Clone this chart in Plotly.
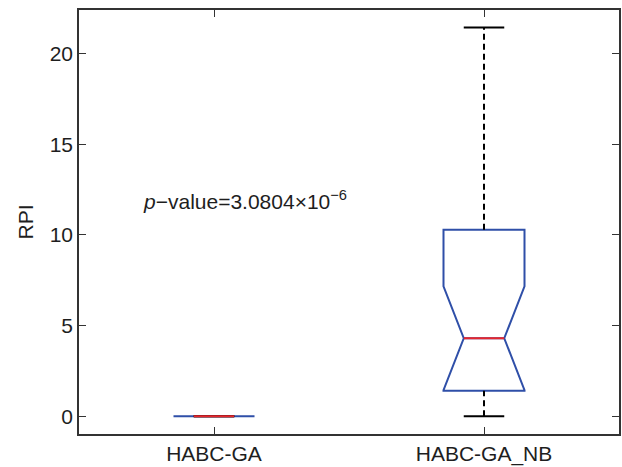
import plotly.graph_objects as go

# ---- data ----
categories = ["HABC-GA", "HABC-GA_NB"]
positions = [1, 2]
q1 = [0.0, 1.40]
median = [0.0, 4.30]
q3 = [0.0, 10.28]
notchspan = [0.0, 2.86]
lower_adj = [0.0, 0.0]
upper_adj = [0.0, 21.43]
y_ticks = [0, 5, 10, 15, 20]
p_text = "<i>p</i>\u2212value=3.0804\u00d710<sup>\u22126</sup>"

# ---- style ----
BOX_W = 0.30          # full box width, data units
NOTCH_W = 0.25        # plotly notchwidth (each side)
CAP_FRAC = 0.5        # cap width relative to box
BLUE = "#2F4FA8"
RED = "#E8262C"
AX = "#333333"
TXT = "#1e1e1e"
FONT = "Liberation Sans, Arial, sans-serif"

fig = go.Figure()

# whiskers (dashed black) and caps
for x, a, b, lo, hi in zip(positions, q1, q3, lower_adj, upper_adj):
    if hi > b:
        fig.add_trace(go.Scatter(x=[x, x], y=[b, hi], mode="lines",
                                 line=dict(color="black", width=2, dash="6px,4px"),
                                 showlegend=False, hoverinfo="skip"))
    if a > lo:
        fig.add_trace(go.Scatter(x=[x, x], y=[lo, a], mode="lines",
                                 line=dict(color="black", width=2, dash="6px,4px"),
                                 showlegend=False, hoverinfo="skip"))
    hw = BOX_W / 2 * CAP_FRAC
    for v in (lo, hi):
        fig.add_trace(go.Scatter(x=[x - hw, x + hw], y=[v, v], mode="lines",
                                 line=dict(color="black", width=2),
                                 showlegend=False, hoverinfo="skip"))

# notched boxes
for x, a, m, b, ns in zip(positions, q1, median, q3, notchspan):
    fig.add_trace(go.Box(
        x=[x], q1=[a], median=[m], q3=[b],
        lowerfence=[a], upperfence=[b], notchspan=[ns],
        notched=True, notchwidth=NOTCH_W, width=BOX_W, whiskerwidth=0,
        line=dict(color=BLUE, width=2), fillcolor="rgba(0,0,0,0)",
        showlegend=False, hoverinfo="skip", boxpoints=False))

# medians (red), spanning the notch waist
for x, m in zip(positions, median):
    hw = BOX_W / 2 * (1 - 2 * NOTCH_W)
    fig.add_trace(go.Scatter(x=[x - hw, x + hw], y=[m, m], mode="lines",
                             line=dict(color=RED, width=2),
                             showlegend=False, hoverinfo="skip"))

fig.add_annotation(x=0.73, y=11.95, xref="x", yref="y", text=p_text,
                   showarrow=False, xanchor="left", yanchor="middle",
                   font=dict(family=FONT, size=21, color=TXT))

fig.update_layout(
    width=622, height=467,
    margin=dict(l=79, r=1, t=10, b=30),
    paper_bgcolor="white", plot_bgcolor="white",
    font=dict(family=FONT, size=21, color=TXT),
    xaxis=dict(range=[0.5, 2.5], tickvals=positions, ticktext=categories,
               showgrid=False, zeroline=False, showline=True, linecolor=AX,
               linewidth=1.5, mirror="ticks", ticks="inside", ticklen=7,
               tickcolor=AX, tickwidth=1.2,
               tickfont=dict(family=FONT, size=21, color=TXT)),
    yaxis=dict(range=[-0.98, 22.4], tickvals=y_ticks,
               showgrid=False, zeroline=False, showline=True, linecolor=AX,
               linewidth=1.5, mirror="ticks", ticks="inside", ticklen=7,
               tickcolor=AX, tickwidth=1.2,
               tickfont=dict(family=FONT, size=21, color=TXT),
               title=dict(text="RPI", standoff=10,
                          font=dict(family=FONT, size=21, color=TXT))),
)

fig.write_html("out.html")
